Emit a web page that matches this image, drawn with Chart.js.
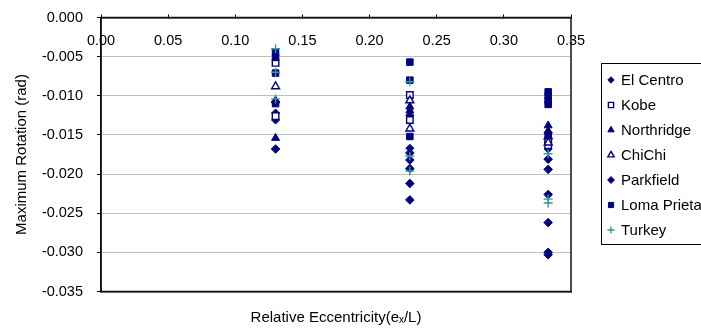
<!DOCTYPE html>
<html>
<head>
<meta charset="utf-8">
<script src="https://cdn.jsdelivr.net/npm/chart.js@4/dist/chart.umd.min.js"></script>
<style>
  html, body { margin: 0; padding: 0; background: #fff; }
  #wrap { position: relative; width: 701px; height: 332px; overflow: hidden; }
  #legend {
    position: absolute; left: 601px; top: 63px; width: 120px; height: 182px;
    border: 1px solid #000; box-sizing: border-box; padding-top: 3px;
    font-family: 'Liberation Sans', Arial, sans-serif; font-size: 15px; color: #000;
  }
  .row { height: 25px; display: flex; align-items: center; white-space: nowrap; }
  .row canvas { margin-left: 3px; margin-right: 4px; }
</style>
</head>
<body>
<div id="wrap">
  <canvas id="chart" width="701" height="332"></canvas>
  <div id="legend"></div>
</div>
<script>
// axis ticks
const xTicks = [0, 0.05, 0.10, 0.15, 0.20, 0.25, 0.30, 0.35];
const yTicks = [0, -0.005, -0.010, -0.015, -0.020, -0.025, -0.030, -0.035];

// eccentricity values (x) and max rotation (y) per record
const elCentroX = [0.13, 0.13, 0.23, 0.23, 0.333, 0.333];
const elCentroY = [-0.0122, -0.0131, -0.0125, -0.0167, -0.0147, -0.0168];

const kobeX = [0.13, 0.13, 0.23, 0.23, 0.333, 0.333];
const kobeY = [-0.0058, -0.0126, -0.0099, -0.0131, -0.0158, -0.0163];

const northridgeX = [0.13, 0.13, 0.23, 0.23, 0.333, 0.333];
const northridgeY = [-0.0106, -0.0154, -0.0114, -0.0119, -0.0138, -0.0145];

const chichiX = [0.13, 0.23, 0.23, 0.333, 0.333];
const chichiY = [-0.0088, -0.0106, -0.0142, -0.0152, -0.0160];

const parkfieldX = [0.13, 0.13, 0.23, 0.23, 0.23, 0.23, 0.23, 0.333, 0.333, 0.333, 0.333, 0.333, 0.333];
const parkfieldY = [-0.0108, -0.0168, -0.0173, -0.0182, -0.0193, -0.0212, -0.0233, -0.0181, -0.0194, -0.0226, -0.0262, -0.0300, -0.0303];

const lomaPrietaX = [0.13, 0.13, 0.13, 0.13, 0.23, 0.23, 0.23, 0.333, 0.333, 0.333, 0.333, 0.333];
const lomaPrietaY = [-0.0045, -0.0051, -0.0071, -0.0110, -0.0057, -0.0080, -0.0152, -0.0095, -0.0100, -0.0106, -0.0111, -0.0150];

const turkeyX = [0.13, 0.13, 0.13, 0.23, 0.23, 0.23, 0.333, 0.333, 0.333];
const turkeyY = [-0.0040, -0.0070, -0.0104, -0.0082, -0.0177, -0.0196, -0.0174, -0.0232, -0.0237];

const NAVY = '#000080';
const TEAL = '#2f9a9a';
const FONT = "'Liberation Sans', Arial, sans-serif";

function pts(xs, ys) {
    return xs.map((x, i) => ({ x: x, y: ys[i] }));
}

// name, points, marker style
const series = [
    { label: 'El Centro', data: pts(elCentroX, elCentroY), style: 'rectRot', r: 4, fill: NAVY, stroke: NAVY, bw: 1 },
    { label: 'Kobe', data: pts(kobeX, kobeY), style: 'rect', r: 4.6, fill: '#fff', stroke: NAVY, bw: 1.4 },
    { label: 'Northridge', data: pts(northridgeX, northridgeY), style: 'triangle', r: 4.6, fill: NAVY, stroke: NAVY, bw: 1 },
    { label: 'ChiChi', data: pts(chichiX, chichiY), style: 'triangle', r: 4.6, fill: '#fff', stroke: NAVY, bw: 1.4 },
    { label: 'Parkfield', data: pts(parkfieldX, parkfieldY), style: 'rectRot', r: 4.3, fill: NAVY, stroke: NAVY, bw: 1 },
    { label: 'Loma Prieta', data: pts(lomaPrietaX, lomaPrietaY), style: 'rect', r: 4.6, fill: NAVY, stroke: NAVY, bw: 1 },
    { label: 'Turkey', data: pts(turkeyX, turkeyY), style: 'cross', r: 4.5, fill: TEAL, stroke: TEAL, bw: 1.4 }
];

// outline of the plot area (right and bottom edges)
const plotBox = {
    id: 'plotBox',
    afterDraw(chart) {
        const a = chart.chartArea;
        const ctx = chart.ctx;
        ctx.save();
        ctx.strokeStyle = '#111';
        ctx.lineWidth = 1.5;
        ctx.strokeRect(a.left, a.top, a.right - a.left, a.bottom - a.top);
        ctx.restore();
    }
};

Chart.defaults.font.family = FONT;
Chart.defaults.color = '#000';

new Chart(document.getElementById('chart'), {
    type: 'scatter',
    data: {
        datasets: series.map((s, i) => ({
            label: s.label,
            data: s.data,
            order: series.length - i,
            pointStyle: s.style,
            pointRadius: s.r,
            pointHoverRadius: s.r,
            pointBackgroundColor: s.fill,
            pointBorderColor: s.stroke,
            pointBorderWidth: s.bw,
            showLine: false
        }))
    },
    options: {
        responsive: false,
        animation: false,
        layout: { padding: { top: 17.5, right: 130, left: 0, bottom: 0 } },
        plugins: { legend: { display: false }, tooltip: { enabled: false } },
        scales: {
            x: {
                type: 'linear',
                position: { y: 0 },
                min: xTicks[0],
                max: xTicks[xTicks.length - 1],
                afterBuildTicks: (scale) => { scale.ticks = xTicks.map(v => ({ value: v })); },
                ticks: {
                    font: { size: 14.5 },
                    padding: 19,
                    callback: (v) => Number(v).toFixed(2)
                },
                grid: { drawOnChartArea: false, drawTicks: true, tickLength: -4, tickColor: '#000', tickWidth: 1 },
                border: { display: true, color: '#000', width: 1.5 }
            },
            x2: {
                type: 'linear',
                position: 'bottom',
                min: xTicks[0],
                max: xTicks[xTicks.length - 1],
                ticks: { display: false },
                grid: { display: false },
                border: { display: true, color: '#111', width: 1.5 },
                title: {
                    display: true,
                    text: 'Relative Eccentricity(e\u2093/L)',
                    font: { size: 15 },
                    padding: { top: 0, bottom: 5 }
                },
                afterFit: (scale) => { scale.height = 40.5; }
            },
            y: {
                type: 'linear',
                position: 'left',
                min: yTicks[yTicks.length - 1],
                max: yTicks[0],
                afterBuildTicks: (scale) => { scale.ticks = yTicks.slice().reverse().map(v => ({ value: v })); },
                ticks: {
                    font: { size: 14.5 },
                    padding: 14,
                    callback: (v) => Number(v).toFixed(3)
                },
                grid: { color: '#c0c0c0', lineWidth: 1, tickLength: 4, tickColor: '#000' },
                border: { display: true, color: '#000', width: 1.5 },
                title: {
                    display: true,
                    text: 'Maximum Rotation (rad)',
                    font: { size: 15 },
                    padding: { top: 13, bottom: 0 }
                },
                afterFit: (scale) => {
                    scale.width = 101;
                    scale.paddingTop = 0;
                    scale.paddingBottom = 0;
                }
            }
        }
    },
    plugins: [plotBox]
});

// legend built as html, markers drawn with Chart.js point helper
const legend = document.getElementById('legend');
series.forEach((s) => {
    const row = document.createElement('div');
    row.className = 'row';
    const c = document.createElement('canvas');
    c.width = 12; c.height = 12;
    const ctx = c.getContext('2d');
    ctx.fillStyle = s.fill;
    ctx.strokeStyle = s.stroke;
    ctx.lineWidth = s.bw;
    Chart.helpers.drawPoint(ctx, { pointStyle: s.style, radius: s.r * 0.8, rotation: 0, borderWidth: s.bw }, 6, 6);
    row.appendChild(c);
    const t = document.createElement('span');
    t.textContent = s.label;
    row.appendChild(t);
    legend.appendChild(row);
});
</script>
</body>
</html>
